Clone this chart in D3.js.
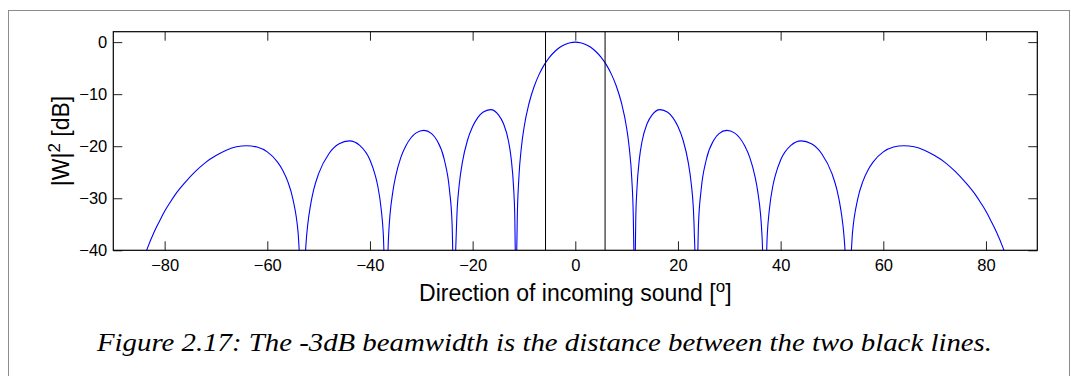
<!DOCTYPE html>
<html>
<head>
<meta charset="utf-8">
<title>Beam pattern</title>
<script src="https://cdnjs.cloudflare.com/ajax/libs/d3/7.8.5/d3.min.js"></script>
<style>
body { margin: 0; background: #fff; }
text { font-family: "Liberation Sans", Arial, Helvetica, sans-serif; fill: #000; }
.caption { font-family: "Liberation Serif", "DejaVu Serif", serif; font-style: italic; }
</style>
</head>
<body>
<div id="chart"></div>
<script>

// direction of incoming sound (degrees)
var angleDeg = [
  -84, -83.5, -82, -81, -80, -79, -78, -76, -74, -72, -70, -68, -66, -64, -62, -60, -58, -57, -56, -55, -54, -53.6,
  -52.7, -52.5, -51.5, -51, -50, -48, -46, -44, -42, -40, -39, -38.5, -37.8, -37.4, -37.1,
  -36.6, -36.4, -35.5, -35, -34, -33, -32, -31, -29.5, -28, -27, -25.5, -24.5, -24, -23.7,
  -23.4, -23, -22.6, -22, -21, -20, -19, -18, -16.5, -15, -14, -13, -12.5, -12, -11.8, -11.6,
  -11.45, -11.3, -11, -10.5, -10, -9, -8, -7, -6, -5, -4, -3, -2, -1,
  0,
  1, 2, 3, 4, 5, 6, 7, 8, 9, 10, 10.5, 11, 11.3, 11.45,
  11.6, 11.8, 12, 12.5, 13, 14, 15, 16.5, 18, 19, 20, 21, 22, 22.6, 23, 23.4,
  23.7, 24, 24.5, 25.5, 27, 28, 29.5, 31, 32, 33, 34, 35, 35.5, 36.4, 36.6,
  37.1, 37.4, 37.8, 38.5, 39, 40, 42, 44, 46, 48, 50, 51, 51.5, 52.5, 52.7,
  53.6, 54, 55, 56, 57, 58, 60, 62, 64, 66, 68, 70, 72, 74, 76, 78, 79, 80, 81, 82, 83.5, 84
];

// |W|^2 in dB at each angle above
var gainDb = [
  -41.3, -39.96, -36.4, -34.4, -32.5, -30.9, -29.4, -26.95, -24.85, -23.1, -21.8, -20.76, -20.1, -19.9, -20.17, -21.1, -23.05, -24.6, -26.8, -30.2, -36.6, -41.9,
  -42.6, -39.3, -30.9, -28.5, -25.27, -21.44, -19.54, -18.98, -19.85, -22.66, -25.5, -27.55, -32.2, -36.9, -44,
  -42.6, -37.7, -28.45, -25.8, -22.2, -19.9, -18.37, -17.44, -16.95, -17.59, -18.8, -22.65, -28.5, -35.0, -45.7,
  -42.2, -31.9, -27.3, -23.1, -18.86, -16.23, -14.52, -13.47, -12.97, -13.92, -15.65, -19.1, -22.3, -28.3, -33.0, -45,
  -42.4, -33.6, -26.2, -20.2, -16.5, -11.7, -8.48, -6.1, -4.28, -2.88, -1.80, -0.99, -0.44, -0.11,
  0,
  -0.11, -0.44, -0.99, -1.80, -2.88, -4.28, -6.1, -8.48, -11.7, -16.5, -20.2, -26.2, -33.6, -42.4,
  -45, -33.0, -28.3, -22.3, -19.1, -15.65, -13.92, -12.97, -13.47, -14.52, -16.23, -18.86, -23.1, -27.3, -31.9, -42.2,
  -45.7, -35.0, -28.5, -22.65, -18.8, -17.59, -16.95, -17.44, -18.37, -19.9, -22.2, -25.8, -28.45, -37.7, -42.6,
  -44, -36.9, -32.2, -27.55, -25.5, -22.66, -19.85, -18.98, -19.54, -21.44, -25.27, -28.5, -30.9, -39.3, -42.6,
  -41.9, -36.6, -30.2, -26.8, -24.6, -23.05, -21.1, -20.17, -19.9, -20.1, -20.76, -21.8, -23.1, -24.85, -26.95, -29.4, -30.9, -32.5, -34.4, -36.4, -39.96, -41.3
];

// -3dB beamwidth edges (the two black lines)
var beamEdges = [-5.8, 5.8];

var xTicks = [-80, -60, -40, -20, 0, 20, 40, 60, 80];
var yTicks = [0, -10, -20, -30, -40];

var width = 1071;
var height = 376;
// plot box in pixels (note: "top" is taken by window.top, so use other names)
var plotL = 113.3, plotR = 1037.3, plotT = 31.7, plotB = 250.3;

var svg = d3.select("#chart")
  .append("svg")
  .attr("width", width)
  .attr("height", height);

// grey frame round the figure
svg.append("rect")
  .attr("x", 8.5)
  .attr("y", 10.5)
  .attr("width", 1061)
  .attr("height", 380)
  .style("fill", "none")
  .style("stroke", "#8c8c8c")
  .style("stroke-width", 1);

var x = d3.scaleLinear().domain([-90, 90]).range([plotL, plotR]);
var y = d3.scaleLinear().domain([-40, 2]).range([plotB, plotT]);

svg.append("clipPath")
  .attr("id", "plotclip")
  .append("rect")
  .attr("x", plotL)
  .attr("y", plotT)
  .attr("width", plotR - plotL)
  .attr("height", plotB - plotT);

var minus = function(d) { return d < 0 ? "\u2212" + Math.abs(d) : "" + d; };

// axes, ticks point inwards on all four sides
var tickLen = 9;
svg.append("g")
  .attr("transform", "translate(0," + plotB + ")")
  .call(d3.axisBottom(x).tickValues(xTicks).tickSizeInner(-tickLen).tickSizeOuter(0).tickPadding(9).tickFormat(minus))
  .call(function(g) { g.select(".domain").remove(); });
svg.append("g")
  .attr("transform", "translate(0," + plotT + ")")
  .call(d3.axisTop(x).tickValues(xTicks).tickSizeInner(-tickLen).tickSizeOuter(0).tickFormat(""))
  .call(function(g) { g.select(".domain").remove(); });
svg.append("g")
  .attr("transform", "translate(" + plotL + ",0)")
  .call(d3.axisLeft(y).tickValues(yTicks).tickSizeInner(-tickLen).tickSizeOuter(0).tickPadding(6).tickFormat(minus))
  .call(function(g) { g.select(".domain").remove(); });
svg.append("g")
  .attr("transform", "translate(" + plotR + ",0)")
  .call(d3.axisRight(y).tickValues(yTicks).tickSizeInner(-tickLen).tickSizeOuter(0).tickFormat(""))
  .call(function(g) { g.select(".domain").remove(); });

svg.selectAll(".tick line").style("stroke", "#222");
svg.selectAll(".tick text")
  .style("font-size", "16.5px")
  .style("font-family", "'Liberation Sans', Arial, sans-serif");

// the pattern
var pts = angleDeg.map(function(a, i) { return [a, gainDb[i]]; });
var line = d3.line()
  .x(function(d) { return x(d[0]); })
  .y(function(d) { return y(d[1]); })
  .curve(d3.curveMonotoneX);

svg.append("path")
  .datum(pts)
  .attr("clip-path", "url(#plotclip)")
  .attr("d", line)
  .style("fill", "none")
  .style("stroke", "#0000ff")
  .style("stroke-width", 1.1);

// beamwidth lines
svg.selectAll(".edge")
  .data(beamEdges)
  .enter().append("line")
  .attr("class", "edge")
  .attr("x1", function(d) { return x(d); })
  .attr("x2", function(d) { return x(d); })
  .attr("y1", y(-40))
  .attr("y2", y(2))
  .style("stroke", "#000")
  .style("stroke-width", 1);

// axes box
svg.append("rect")
  .attr("x", plotL)
  .attr("y", plotT)
  .attr("width", plotR - plotL)
  .attr("height", plotB - plotT)
  .style("fill", "none")
  .style("stroke", "#000")
  .style("stroke-width", 1.2);

// axis labels
var xl = svg.append("text")
  .attr("x", (plotL + plotR) / 2)
  .attr("y", 301)
  .attr("text-anchor", "middle")
  .style("font-size", "23px");
xl.append("tspan").text("Direction of incoming sound [");
xl.append("tspan").attr("dy", -9).style("font-size", "17px").text("o");
xl.append("tspan").attr("dy", 9).text("]");

var yl = svg.append("text")
  .attr("transform", "translate(69," + (plotT + plotB) / 2 + ") rotate(-90)")
  .attr("text-anchor", "middle")
  .style("font-size", "23px");
yl.append("tspan").text("|W|");
yl.append("tspan").attr("dy", -9).style("font-size", "17px").text("2");
yl.append("tspan").attr("dy", 9).text(" [dB]");

// caption
svg.append("text")
  .attr("class", "caption")
  .attr("x", 97)
  .attr("y", 351)
  .attr("textLength", 895)
  .attr("lengthAdjust", "spacingAndGlyphs")
  .style("font-size", "26px")
  .text("Figure 2.17: The -3dB beamwidth is the distance between the two black lines.");

</script>
</body>
</html>
